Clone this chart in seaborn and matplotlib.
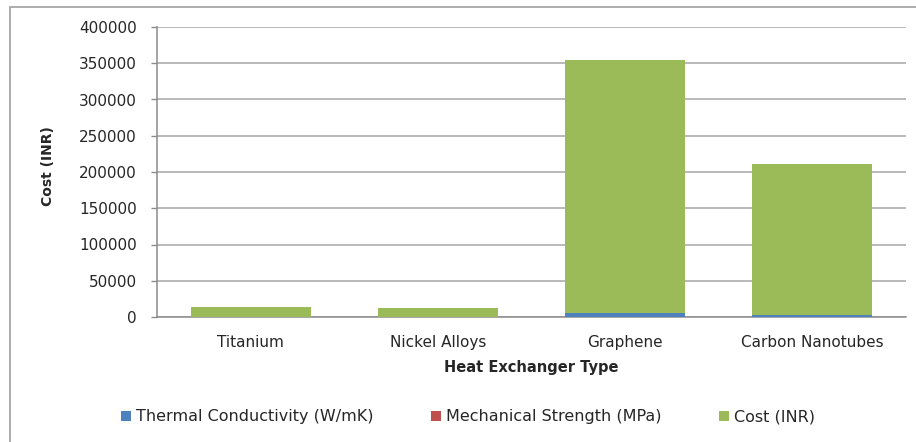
import pandas as pd
import seaborn as sns
import matplotlib.pyplot as plt
from matplotlib.patches import Rectangle, Patch

materials = ['Titanium', 'Nickel Alloys', 'Graphene', 'Carbon Nanotubes']
thermal = [22, 90, 5000, 3000]          # W/mK
mech_strength = [300, 350, 130, 100]    # MPa
cost = [13500, 11500, 350000, 208000]   # INR
series_names = ['Thermal Conductivity (W/mK)', 'Mechanical Strength (MPa)', 'Cost (INR)']
colors = ['#4F81BD', '#C0504D', '#9BBB59']
yticks = [0, 50000, 100000, 150000, 200000, 250000, 300000, 350000, 400000]

df = pd.DataFrame({'type': materials, 'thermal': thermal,
                   'mech': mech_strength, 'cost': cost})
df['lvl1'] = df['thermal']
df['lvl2'] = df['thermal'] + df['mech']
df['lvl3'] = df['lvl2'] + df['cost']

sns.set_style('white')
plt.rcParams['font.family'] = ['DejaVu Sans']
txt = '#262626'

fig = plt.figure(figsize=(9.16, 4.42), dpi=100)
ax = fig.add_axes([157/916, 1-317/442, (906-157)/916, (317-27)/442])

# stacked bars: draw cumulative totals from the top down
for col, c in zip(['lvl3', 'lvl2', 'lvl1'], colors[::-1]):
    sns.barplot(data=df, x='type', y=col, color=c, saturation=1, width=0.64,
                errorbar=None, ax=ax, zorder=3, linewidth=0, edgecolor='none')

ax.set_ylim(0, 400000)
ax.set_yticks(yticks)
ax.set_yticklabels([str(v) for v in yticks])
ax.grid(axis='y', color='#a6a6a6', lw=1.1, zorder=0)
ax.set_axisbelow(True)
for s in ['top', 'right']:
    ax.spines[s].set_visible(False)
for s in ['left', 'bottom']:
    ax.spines[s].set_color('#8c8c8c')
    ax.spines[s].set_linewidth(1.1)
ax.tick_params(axis='y', length=4, width=1, color='#8c8c8c', pad=10.5,
               labelsize=11, labelcolor=txt, left=True)
ax.tick_params(axis='x', length=0, pad=13, labelsize=11, labelcolor=txt)

ax.set_xlabel('Heat Exchanger Type', fontsize=10.5, fontweight='bold', color=txt, labelpad=7)
ax.set_ylabel('Cost (INR)', fontsize=10, fontweight='bold', color=txt)
ax.yaxis.set_label_coords(-(157-55)/749, 0.52)

handles = [Patch(facecolor=c, edgecolor='none') for c in colors]
fig.legend(handles, series_names, loc='center', bbox_to_anchor=(468/916, 1-417/442),
           ncol=3, frameon=False, fontsize=11.5, handlelength=0.65, handleheight=0.65,
           handletextpad=0.3, columnspacing=3.6, labelcolor=txt)

fig.patches.append(Rectangle((10/916, -0.1), 1.0, 1-7/442+0.1, transform=fig.transFigure,
                             fill=False, edgecolor='#a6a6a6', lw=1.3))

fig.savefig('out.png', dpi=100)
